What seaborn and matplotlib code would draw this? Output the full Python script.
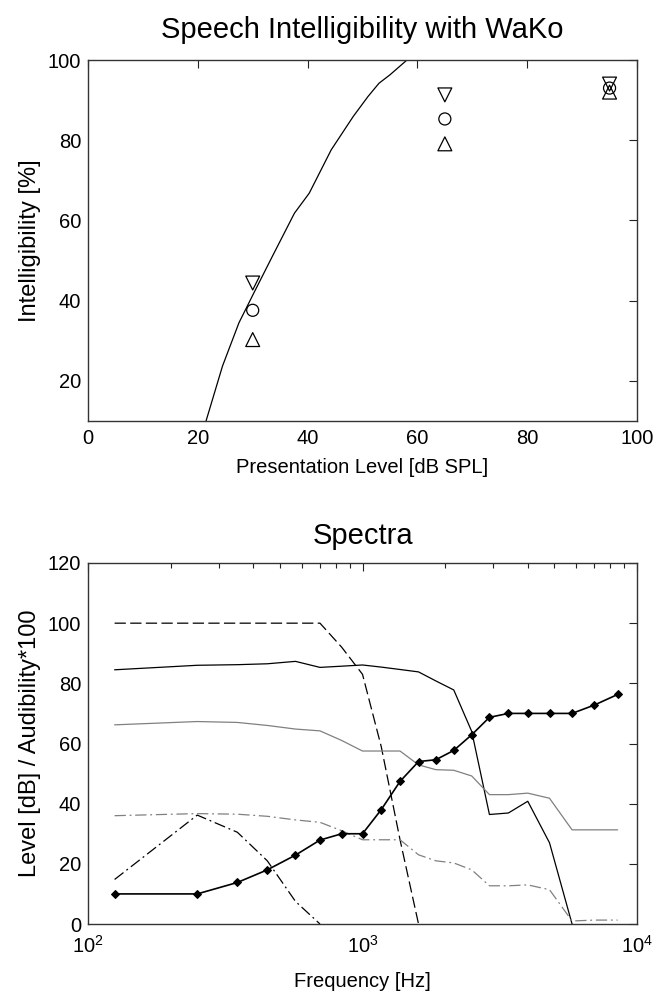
import numpy as np
import pandas as pd
import matplotlib
matplotlib.use("Agg")
import matplotlib.pyplot as plt
import seaborn as sns
from matplotlib.ticker import MultipleLocator, LogLocator, NullFormatter

# ---------------- data ----------------
# top panel: predicted intelligibility curve
pred_level = [21.5, 24.5, 27.5, 30.2, 33.6, 37.6, 40.3, 44.3, 48.3, 51.0, 53.0, 55.0, 58.1]
pred_intell = [10.0, 23.7, 34.5, 41.9, 51.1, 61.8, 66.8, 77.6, 85.9, 90.9, 94.2, 96.3, 100.0]

# measured points
meas_level = [30, 65, 95]
meas_upper = [44.4, 91.3, 94.0]
meas_mean = [37.6, 85.3, 93.0]
meas_lower = [30.3, 79.1, 92.0]

# bottom panel: spectra on critical-band frequencies
freqs = [125, 250, 350, 450, 570, 700, 840, 1000, 1170, 1370, 1600, 1850,
         2150, 2500, 2900, 3400, 4000, 4800, 5800, 7000, 8500]
speech_black = [84.5, 86.0, 86.2, 86.5, 87.3, 85.3, 85.7, 86.1, 85.4, 84.6,
                83.8, 80.8, 77.8, 64.0, 36.4, 36.9, 40.8, 27.0, 0.0]
speech_gray = [66.2, 67.3, 67.0, 66.0, 64.8, 64.2, 61.0, 57.5, 57.5, 57.5, 52.9,
               51.3, 51.1, 49.2, 43.0, 43.0, 43.5, 41.8, 31.3, 31.3, 31.3]
noise_gray = [36.0, 36.7, 36.5, 35.8, 34.6, 33.8, 31.0, 28.0, 28.0, 28.0, 23.0,
              21.0, 20.3, 18.0, 12.7, 12.7, 13.0, 11.4, 1.0, 1.3, 1.3]
thresh_dashed = [100, 100, 100, 100, 100, 100, 92, 83, 59, 28, 0]
noise_black = [14.8, 36.2, 30.5, 21.0, 7.5, 0.0]
audibility = [10, 10, 13.8, 18, 22.9, 27.9, 30, 30, 38, 47.4, 54, 54.6, 57.7,
              62.9, 68.7, 70, 70, 70, 70, 72.8, 76.3]

# ---------------- style ----------------
sns.set_style("white")
FAM = "Liberation Sans"
plt.rcParams["font.family"] = [FAM, "DejaVu Sans"]
plt.rcParams["mathtext.fontset"] = "custom"
plt.rcParams["mathtext.rm"] = FAM
plt.rcParams["mathtext.it"] = FAM
plt.rcParams["mathtext.default"] = "regular"
plt.rcParams["text.color"] = "black"
plt.rcParams["axes.labelcolor"] = "black"
TICK_FS = 14.5
LABEL_FS = 14.5
YLABEL_FS = 17
TITLE_FS = 21

fig = plt.figure(figsize=(6.58, 9.98), dpi=100)
L = 88 / 658
W = 549 / 658
H = 361 / 998
ax1 = fig.add_axes([L, (998 - 421) / 998, W, H])
ax2 = fig.add_axes([L, (998 - 924) / 998, W, H])

LW = 0.9
GRAY = "#808080"

# ---------------- top panel ----------------
sns.lineplot(x=pred_level, y=pred_intell, ax=ax1, color="black", lw=LW,
             estimator=None, sort=False)
for vals, mk, sz in ((meas_upper, "v", 100), (meas_mean, "o", 75), (meas_lower, "^", 100)):
    sns.scatterplot(x=meas_level, y=vals, ax=ax1, marker=mk, s=sz,
                    facecolor="none", edgecolor="black", linewidth=0.9, zorder=3)
ax1.set_xlim(0, 100)
ax1.set_ylim(10, 100)
ax1.xaxis.set_major_locator(MultipleLocator(20))
ax1.set_yticks([20, 40, 60, 80, 100])
ax1.set_title("Speech Intelligibility with WaKo", fontsize=TITLE_FS, pad=16)
ax1.set_xlabel("Presentation Level [dB SPL]", fontsize=LABEL_FS, labelpad=7)
ax1.set_ylabel("Intelligibility [%]", fontsize=YLABEL_FS, labelpad=5)

# ---------------- bottom panel ----------------
sns.lineplot(x=freqs[:len(thresh_dashed)], y=thresh_dashed, ax=ax2, color="black",
             lw=LW, linestyle=(0, (9, 3.5)), estimator=None, sort=False)
sns.lineplot(x=freqs[:len(speech_black)], y=speech_black, ax=ax2, color="black",
             lw=LW, estimator=None, sort=False)
sns.lineplot(x=freqs, y=speech_gray, ax=ax2, color=GRAY, lw=LW,
             estimator=None, sort=False)
sns.lineplot(x=freqs, y=noise_gray, ax=ax2, color=GRAY, lw=LW,
             linestyle=(0, (9, 3, 1.5, 3)), estimator=None, sort=False)
sns.lineplot(x=freqs[:len(noise_black)], y=noise_black, ax=ax2, color="black",
             lw=LW, linestyle=(0, (9, 3, 1.5, 3)), estimator=None, sort=False)
sns.lineplot(x=freqs, y=audibility, ax=ax2, color="black", lw=1.2, marker="D",
             markersize=4.5, markeredgecolor="black", markerfacecolor="black",
             estimator=None, sort=False)
ax2.set_xscale("log")
ax2.set_xlim(100, 10000)
ax2.set_ylim(0, 120)
ax2.yaxis.set_major_locator(MultipleLocator(20))
ax2.xaxis.set_major_locator(LogLocator(base=10, numticks=10))
ax2.xaxis.set_minor_locator(LogLocator(base=10, subs=np.arange(2, 10), numticks=30))
ax2.xaxis.set_minor_formatter(NullFormatter())
ax2.set_title("Spectra", fontsize=TITLE_FS, pad=14)
ax2.set_xlabel("Frequency [Hz]", fontsize=LABEL_FS, labelpad=11)
ax2.set_ylabel("Level [dB] / Audibility*100", fontsize=YLABEL_FS, labelpad=5)

for ax in (ax1, ax2):
    ax.tick_params(which="major", direction="in", top=True, right=True,
                   length=5.5, width=0.8, labelsize=TICK_FS, color="#222222",
                   labelcolor="black")
    ax.tick_params(which="minor", direction="in", top=True, right=True,
                   length=3.5, width=0.8, color="#222222")
    ax.tick_params(axis="y", which="major", pad=5)
    for sp in ax.spines.values():
        sp.set_visible(True)
        sp.set_color("#333333")
        sp.set_linewidth(1.0)
    ax.set_facecolor("white")
    ax.grid(False)
ax1.tick_params(axis="x", which="major", pad=6)
ax2.tick_params(axis="x", which="major", pad=8)

fig.savefig("out.png", dpi=100, facecolor="white")
